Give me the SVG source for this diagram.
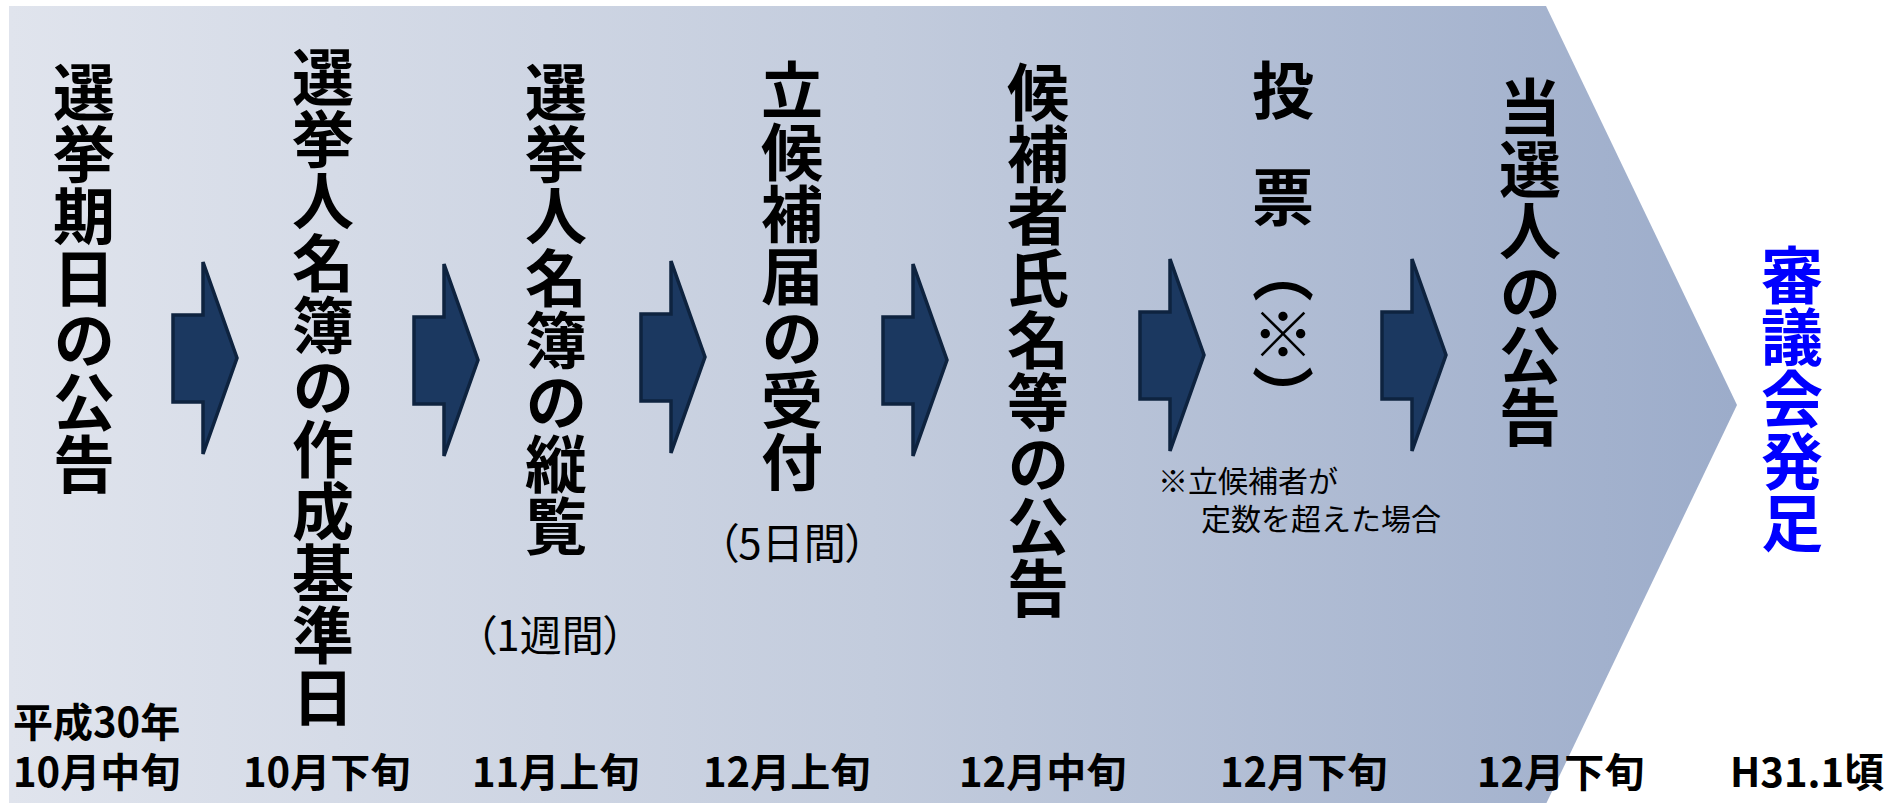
<svg xmlns="http://www.w3.org/2000/svg" width="1884" height="803" viewBox="0 0 1884 803">
<defs>
<linearGradient id="bg" x1="9" y1="0" x2="1737" y2="0" gradientUnits="userSpaceOnUse">
<stop offset="0" stop-color="#e0e4ed"/>
<stop offset="0.5" stop-color="#c3ccdd"/>
<stop offset="1" stop-color="#9cacca"/>
</linearGradient>
<path id="arr" d="M0,-43 L30,-43 L30,-96 L64,0 L30,96 L30,44 L0,44 Z"/>
<style>
.v{font-family:"Noto Sans CJK JP","Noto Sans CJK SC",sans-serif;font-weight:bold;font-size:62px;writing-mode:vertical-rl;fill:#000}
.blue{fill:#0000ff}
.d{font-family:"Noto Sans CJK JP","Noto Sans CJK SC",sans-serif;font-weight:bold;font-size:40px;fill:#000}
.n{font-family:"Noto Sans CJK JP","Noto Sans CJK SC",sans-serif;font-size:30px;fill:#000}
.p{font-family:"Noto Sans CJK JP","Noto Sans CJK SC",sans-serif;font-size:42px;fill:#000;text-anchor:middle;font-feature-settings:"palt"}
.a{fill:#1b3860;stroke:#0e233f;stroke-width:3.5;stroke-linejoin:miter}
</style>
</defs>
<rect width="1884" height="803" fill="#ffffff"/>
<polygon id="chevron" points="9,6 1546,6 1737,405 1546,804 9,804" fill="url(#bg)"/>

<g id="connectors">
<use href="#arr" class="a" x="173" y="358"/>
<use href="#arr" class="a" x="414" y="360"/>
<use href="#arr" class="a" x="641" y="357"/>
<use href="#arr" class="a" x="883" y="360"/>
<use href="#arr" class="a" x="1140" y="355"/>
<use href="#arr" class="a" x="1382" y="355"/>
</g>

<g id="step1">
<text class="v" x="84" y="61">選挙期日の公告</text>
<text class="d" x="13" y="737">平成30年</text>
<text class="d" x="13" y="787">10月中旬</text>
</g>
<g id="step2">
<text class="v" x="323" y="46">選挙人名簿の作成基準日</text>
<text class="d" x="243" y="787">10月下旬</text>
</g>
<g id="step3">
<text class="v" x="556" y="61">選挙人名簿の縦覧</text>
<text class="p" x="550" y="651">（1週間）</text>
<text class="d" x="472" y="787">11月上旬</text>
</g>
<g id="step4">
<text class="v" x="792" y="59">立候補届の受付</text>
<text class="p" x="792" y="559">（5日間）</text>
<text class="d" x="703" y="787">12月上旬</text>
</g>
<g id="step5">
<text class="v" x="1038" y="61">候補者氏名等の公告</text>
<text class="d" x="959" y="787">12月中旬</text>
</g>
<g id="step6">
<text class="v" x="1283" y="59">投</text>
<text class="v" x="1283" y="166">票</text>
<text class="v" x="1283" y="241">（※）</text>
<text class="n" x="1158" y="492">※立候補者が</text>
<text class="n" x="1201" y="530">定数を超えた場合</text>
<text class="d" x="1220" y="787">12月下旬</text>
</g>
<g id="step7">
<text class="v" x="1530" y="76">当選人の公告</text>
<text class="d" x="1477" y="787">12月下旬</text>
</g>
<g id="step8">
<text class="v blue" x="1792" y="244">審議会発足</text>
<text class="d" x="1730" y="787">H31.1頃</text>
</g>
</svg>
